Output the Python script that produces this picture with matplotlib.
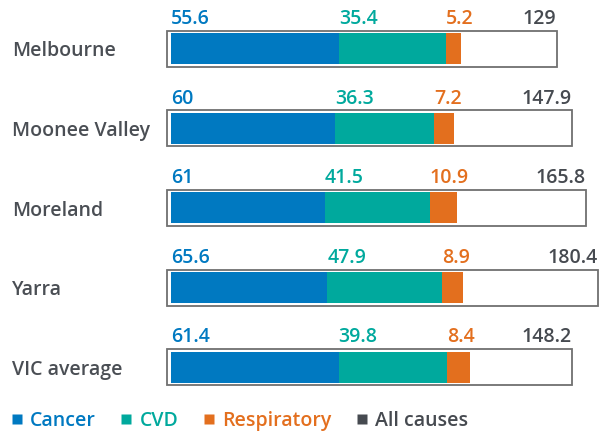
"""Stacked cause-of-death rates per area, each inside an all-causes box."""
import matplotlib
matplotlib.use("Agg")
import matplotlib.pyplot as plt
from matplotlib.patches import Rectangle
from matplotlib.lines import Line2D

AREAS = ["Melbourne", "Moonee Valley", "Moreland", "Yarra", "VIC average"]
CANCER = [55.6, 60, 61, 65.6, 61.4]
CVD = [35.4, 36.3, 41.5, 47.9, 39.8]
RESPIRATORY = [5.2, 7.2, 10.9, 8.9, 8.4]
ALL_CAUSES = [129, 147.9, 165.8, 180.4, 148.2]
SERIES = ["Cancer", "CVD", "Respiratory", "All causes"]

COLORS = {"Cancer": "#0079c1", "CVD": "#00a99d", "Respiratory": "#e36f1e",
          "All causes": "#464a50"}
INK = "#4a4e54"
EDGE = "#707070"
FONT = "Open Sans"

# layout in figure pixels: the boxes grow with the all-causes total, but
# not proportionally (box length = BASE + SLOPE * total)
BOX_X0, FILL_X0 = 167.3, 171.0
BOX_BASE, BOX_SLOPE = 286.0, 0.8
BOX_H, FILL_H = 0.452, 0.39


def main():
    fig = plt.figure(figsize=(6.01, 4.32), dpi=100)
    ax = fig.add_axes([0, 0, 1, 1])
    ax.set_xlim(0, 601)
    ax.set_ylim(4.815, -0.612)
    ax.axis("off")

    for i, area in enumerate(AREAS):
        total = ALL_CAUSES[i]
        box_len = BOX_BASE + BOX_SLOPE * total
        scale = box_len / total
        ax.add_patch(Rectangle((BOX_X0, i - BOX_H / 2), box_len, BOX_H,
                               facecolor="white", edgecolor=EDGE, lw=1.3,
                               zorder=1))
        left = FILL_X0
        label_y = i - BOX_H / 2 - 0.085
        for name, vals in (("Cancer", CANCER), ("CVD", CVD),
                           ("Respiratory", RESPIRATORY)):
            w = vals[i] * scale
            ax.barh(i, w, left=left, height=FILL_H, color=COLORS[name],
                    edgecolor="none", zorder=2)
            ax.text(left, label_y, f"{vals[i]:g}", ha="left", va="baseline",
                    fontsize=14, color=COLORS[name], family=FONT,
                    fontweight="semibold")
            left += w
        ax.text(BOX_X0 + box_len, label_y, f"{total:g}", ha="right",
                va="baseline", fontsize=14, color=COLORS["All causes"],
                family=FONT, fontweight="semibold")
        ax.text(12, i + 0.097, area, ha="left", va="baseline", fontsize=14,
                color=INK, family=FONT, fontweight="semibold")

    handles = [Line2D([], [], marker="s", ls="none", ms=7.5,
                      mfc=COLORS[s], mec="none", label=s) for s in SERIES]
    ax.legend(handles=handles, loc="center left", ncol=4,
              bbox_to_anchor=(0.019, 1 - 421 / 432), frameon=False,
              borderaxespad=0, borderpad=0,
              handlelength=0.55, handletextpad=0.4, columnspacing=1.3,
              labelcolor=[COLORS[s] for s in SERIES],
              prop={"family": FONT, "size": 14, "weight": "semibold"})

    fig.savefig("out.png", dpi=100, facecolor="white")
    plt.close(fig)


if __name__ == "__main__":
    main()
